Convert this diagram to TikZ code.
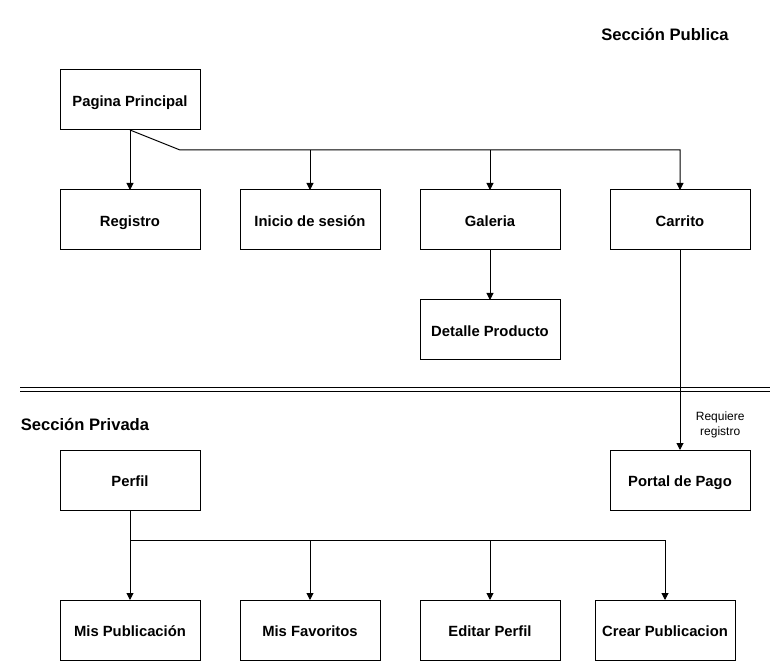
\documentclass[tikz,border=0pt]{standalone}
\usepackage{fontspec}
\setmainfont{Liberation Sans}
\usetikzlibrary{arrows.meta,positioning}
\def \gap {40pt}

\begin{document}
\begin{tikzpicture}[x=1pt,y=-1pt,node distance=\gap,
    box/.style={draw,line width=1pt,minimum width=140pt,minimum height=60pt,
      inner sep=0pt,outer sep=0pt,text height=13.2pt,text depth=0pt,
      font=\fontsize{14.8}{17}\selectfont\bfseries},
    title/.style={font=\fontsize{16.6}{19}\selectfont\bfseries},
    link/.style={line width=1pt,-{Triangle[length=7pt,width=7pt]}}]
    \useasboundingbox (0,0) rectangle (780,671);
    % seccion publica
    \node[title] (pub) at (665,34) {Sección Publica};
    \node[box] (pagina) at (130,100) {Pagina Principal};
    \node[box,below=60pt of pagina] (registro) {Registro};
    \node[box,right=of registro] (inicio) {Inicio de sesión};
    \node[box,right=of inicio] (galeria) {Galeria};
    \node[box,right=50pt of galeria] (carrito) {Carrito};
    \node[box,below=50pt of galeria] (detalle) {Detalle Producto};
    \coordinate (split) at (180,150);
    \path[link] (pagina.south) edge (registro.north);
    \draw[link] (pagina.south) -- (split) -| (carrito.north);
    \draw[link] (split -| inicio.north) -- (inicio.north);
    \draw[link] (split -| galeria.north) -- (galeria.north);
    \path[link] (galeria.south) edge (detalle.north);
    % separador
    \coordinate (sepL) at (20,390);
    \coordinate (sepR) at (770,390);
    \draw[line width=1pt,double,double distance=3pt] (sepL) -- (sepR);
    % seccion privada
    \node[title] (priv) at (85,424) {Sección Privada};
    \node[box] (perfil) at (130,480) {Perfil};
    \node[box] (portal) at (680,480) {Portal de Pago};
    \node[box,below=90pt of perfil] (mispub) {Mis Publicación};
    \node[box,right=of mispub] (misfav) {Mis Favoritos};
    \node[box,right=of misfav] (editar) {Editar Perfil};
    \node[box,right=35pt of editar] (crear) {Crear Publicacion};
    \draw[link] (carrito.south) -- (portal.north)
      node[pos=0.875,right=12pt,align=center,font=\fontsize{12}{15}\selectfont] (req) {Requiere\\registro};
    \coordinate (rama) at (130,540);
    \path[link] (perfil.south) edge (mispub.north);
    \draw[link] (rama) -| (crear.north);
    \draw[link] (rama -| misfav.north) -- (misfav.north);
    \draw[link] (rama -| editar.north) -- (editar.north);
\end{tikzpicture}
\end{document}
